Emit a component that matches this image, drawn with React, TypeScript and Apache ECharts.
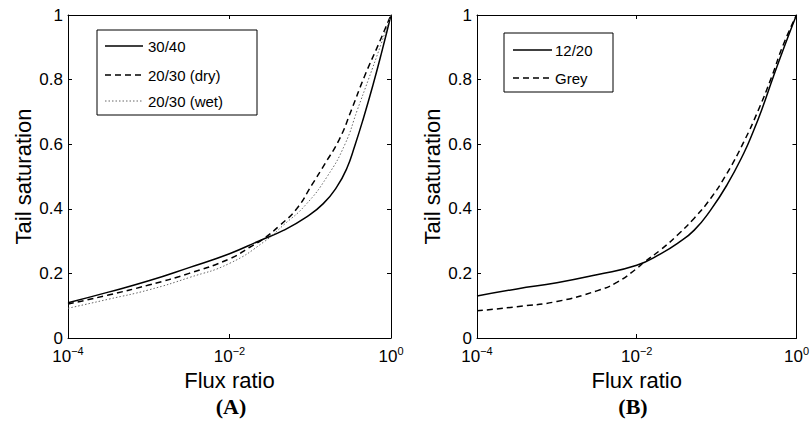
import React, { useEffect, useRef } from "react";
import * as echarts from "echarts";

// Panel A
const fluxA1 = [0.0001, 0.000316, 0.001, 0.00316, 0.01, 0.024, 0.0465, 0.0904, 0.145, 0.2123, 0.2825, 0.358, 0.4539, 0.604, 0.7674, 1];
const satA1 = [0.109, 0.142, 0.177, 0.218, 0.261, 0.302, 0.333, 0.375, 0.416, 0.467, 0.524, 0.597, 0.679, 0.787, 0.885, 1.0];

const fluxA2 = [0.0001, 0.000316, 0.001, 0.00316, 0.01, 0.0178, 0.0263, 0.0422, 0.0679, 0.1042, 0.1524, 0.2291, 0.3236, 0.4677, 0.7079, 1];
const satA2 = [0.105, 0.133, 0.164, 0.2, 0.245, 0.281, 0.307, 0.349, 0.4, 0.473, 0.54, 0.615, 0.706, 0.809, 0.912, 1.0];

const fluxA3 = [0.0001, 0.000316, 0.001, 0.00316, 0.01, 0.0275, 0.0468, 0.0861, 0.1622, 0.2692, 0.3828, 0.5248, 0.7413, 1];
const satA3 = [0.092, 0.12, 0.149, 0.187, 0.231, 0.3, 0.35, 0.41, 0.5, 0.6, 0.706, 0.8, 0.905, 1.0];

// Panel B
const fluxB1 = [0.0001, 0.000316, 0.001, 0.00316, 0.01, 0.0204, 0.0324, 0.0525, 0.0841, 0.1349, 0.2188, 0.2884, 0.3664, 0.5129, 0.7112, 1];
const satB1 = [0.13, 0.152, 0.171, 0.196, 0.225, 0.262, 0.293, 0.334, 0.396, 0.474, 0.572, 0.64, 0.706, 0.809, 0.905, 1.0];

const fluxB2 = [0.0001, 0.000316, 0.001, 0.00316, 0.00562, 0.01, 0.012, 0.0204, 0.0324, 0.0525, 0.0841, 0.1349, 0.2188, 0.3334, 0.4898, 0.6761, 1];
const satB2 = [0.084, 0.097, 0.113, 0.146, 0.172, 0.215, 0.232, 0.275, 0.319, 0.371, 0.432, 0.51, 0.607, 0.706, 0.809, 0.905, 1.0];

const namesA = ["30/40", "20/30 (dry)", "20/30 (wet)"];
const namesB = ["12/20", "Grey"];
const yTicks = [0, 0.2, 0.4, 0.6, 0.8, 1];
const panelLabels = ["(A)", "(B)"];

const SANS = "'Liberation Sans', Arial, Helvetica, sans-serif";
const SERIF = "'Liberation Serif', 'Times New Roman', serif";

function pairs(xs: number[], ys: number[]) {
  return xs.map((x, i) => [x, ys[i]]);
}

const xLabelFormatter = (v: number) => {
  const e = Math.round(Math.log10(v));
  const s = e < 0 ? "\u2212" + Math.abs(e) : String(e);
  return "{b|10}{s|" + s + "}";
};

function makeXAxes(grid: number) {
  const common = {
    type: "log",
    logBase: 10,
    min: 1e-4,
    max: 1,
    interval: 2,
    gridIndex: grid,
    splitLine: { show: false },
    minorTick: { show: false },
    axisLine: { show: true, onZero: false, lineStyle: { color: "#000", width: 1 } },
    axisTick: { show: true, inside: true, length: 4, lineStyle: { color: "#000", width: 1 } },
  };
  return [
    {
      ...common,
      position: "bottom",
      name: "Flux ratio",
      nameLocation: "middle",
      nameGap: 22,
      nameTextStyle: { fontSize: 22, color: "#000", fontFamily: SANS },
      axisLabel: {
        show: true,
        margin: 7,
        showMinLabel: true,
        showMaxLabel: true,
        formatter: xLabelFormatter,
        color: "#000",
        rich: {
          b: { fontSize: 17, fontFamily: SANS, color: "#000", lineHeight: 20, verticalAlign: "bottom" },
          s: { fontSize: 11, fontFamily: SANS, color: "#000", lineHeight: 12, verticalAlign: "top" },
        },
      },
    },
    { ...common, position: "top", axisLabel: { show: false } },
  ];
}

function makeYAxes(grid: number) {
  const common = {
    type: "value",
    min: yTicks[0],
    max: yTicks[yTicks.length - 1],
    interval: 0.2,
    gridIndex: grid,
    splitLine: { show: false },
    axisLine: { show: true, onZero: false, lineStyle: { color: "#000", width: 1 } },
    axisTick: { show: true, inside: true, length: 4, lineStyle: { color: "#000", width: 1 } },
  };
  return [
    {
      ...common,
      position: "left",
      name: "Tail saturation",
      nameLocation: "middle",
      nameGap: 34,
      nameTextStyle: { fontSize: 22, color: "#000", fontFamily: SANS },
      axisLabel: { show: true, fontSize: 17, color: "#000", fontFamily: SANS, margin: 5 },
    },
    { ...common, position: "right", axisLabel: { show: false } },
  ];
}

const solid = { color: "#000", width: 1.5, type: "solid" };
const dashed = { color: "#000", width: 1.5, type: [6, 4] };
const dotted = { color: "#666", width: 1, type: [1.5, 2] };

function toDash(t: any) {
  return Array.isArray(t) ? t : null;
}

function line(name: string, data: number[][], xi: number, yi: number, style: any) {
  return {
    type: "line",
    name,
    data,
    xAxisIndex: xi,
    yAxisIndex: yi,
    showSymbol: false,
    symbol: "none",
    smooth: 0.5,
    lineStyle: style,
    itemStyle: { color: style.color },
    color: style.color,
    z: 3,
  };
}

function legendGraphics(box: number[], lineX: number[], textX: number, rowsY: number[], names: string[], styles: any[]) {
  const els: any[] = [
    {
      type: "rect",
      z: 10,
      shape: { x: box[0], y: box[1], width: box[2], height: box[3] },
      style: { fill: "#fff", stroke: "#000", lineWidth: 1 },
      silent: true,
    },
  ];
  names.forEach((n, i) => {
    const s = styles[i];
    els.push({
      type: "line",
      z: 11,
      shape: { x1: lineX[0], y1: rowsY[i], x2: lineX[1], y2: rowsY[i] },
      style: { stroke: s.color, lineWidth: s.width, lineDash: toDash(s.type) },
      silent: true,
    });
    els.push({
      type: "text",
      z: 11,
      x: textX,
      y: rowsY[i],
      style: { text: n, font: "15px " + SANS, fill: "#000", textAlign: "left", textVerticalAlign: "middle" },
      silent: true,
    });
  });
  return els;
}

export default function App() {
  const ref = useRef<HTMLDivElement>(null);
  useEffect(() => {
    if (!ref.current) return;
    const chart = echarts.init(ref.current, null, { renderer: "svg" });
    chart.setOption({
      animation: false,
      backgroundColor: "#fff",
      textStyle: { fontFamily: SANS },
      grid: [
        { left: 68, top: 15, width: 323, height: 323, containLabel: false },
        { left: 477, top: 15, width: 323, height: 323, containLabel: false },
      ],
      xAxis: [...makeXAxes(0), ...makeXAxes(1)],
      yAxis: [...makeYAxes(0), ...makeYAxes(1)],
      graphic: [
        ...legendGraphics([97, 30, 160, 85], [105, 143], 148, [46, 75, 101], namesA, [solid, dashed, dotted]),
        ...legendGraphics([504, 33, 109, 59], [513, 552], 555, [50, 78], namesB, [solid, dashed]),
        { type: "text", x: 231, y: 406, style: { text: panelLabels[0], font: "bold 22px " + SERIF, fill: "#000", textAlign: "center", textVerticalAlign: "middle" } },
        { type: "text", x: 633, y: 406, style: { text: panelLabels[1], font: "bold 22px " + SERIF, fill: "#000", textAlign: "center", textVerticalAlign: "middle" } },
      ],
      series: [
        line(namesA[0], pairs(fluxA1, satA1), 0, 0, solid),
        line(namesA[1], pairs(fluxA2, satA2), 0, 0, dashed),
        line(namesA[2], pairs(fluxA3, satA3), 0, 0, dotted),
        line(namesB[0], pairs(fluxB1, satB1), 2, 2, solid),
        line(namesB[1], pairs(fluxB2, satB2), 2, 2, dashed),
      ],
    });
    return () => chart.dispose();
  }, []);
  return <div ref={ref} style={{ width: 812, height: 432, position: "absolute", left: 0, top: 0 }} />;
}
